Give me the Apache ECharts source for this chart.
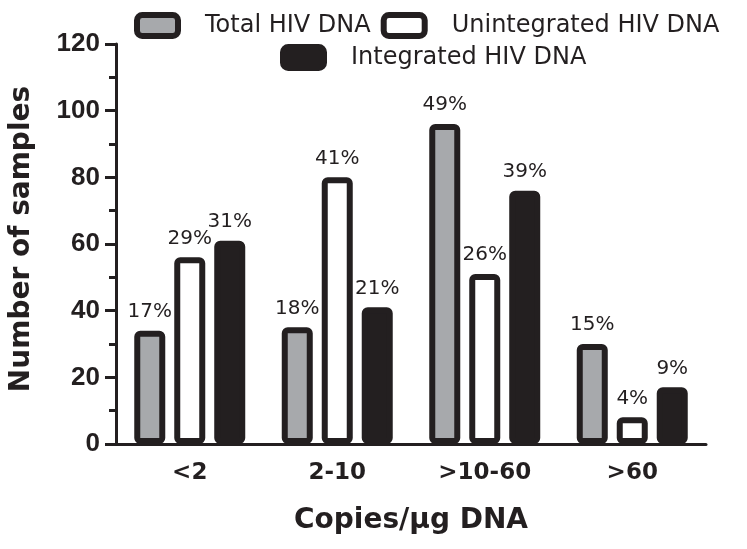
<!DOCTYPE html>
<html>
<head>
<meta charset="utf-8">
<script src="https://cdn.jsdelivr.net/npm/echarts@6/dist/echarts.min.js"></script>
<style>html,body{margin:0;padding:0;background:#fff;}#c{width:747px;height:549px;}</style>
</head>
<body>
<div id="c"></div>
<script>
var categories = ['<2', '2-10', '>10-60', '>60'];
var totalValues = [34, 35, 96, 30];
var unintegratedValues = [56, 80, 51, 8];
var integratedValues = [61, 41, 76, 17];
var totalPct = ['17%', '18%', '49%', '15%'];
var unintegratedPct = ['29%', '41%', '26%', '4%'];
var integratedPct = ['31%', '21%', '39%', '9%'];
var yTicks = [0, 20, 40, 60, 80, 100, 120];

var WIDE = '"DejaVu Sans", Verdana, sans-serif';
var NARROW = '"Liberation Sans", Arial, Helvetica, sans-serif';
var TXT = '#231f20';

function mkSeries(name, data, pct, color) {
  return {
    name: name,
    type: 'bar',
    data: data,
    barWidth: 31,
    barGap: '29%',
    itemStyle: { color: color, borderColor: '#231f20', borderWidth: 6, borderRadius: 3 },
    label: {
      show: true, position: 'top', distance: 9,
      fontFamily: WIDE, fontSize: 20, color: TXT,
      formatter: function (p) { return pct[p.dataIndex]; }
    }
  };
}

var legendCommon = {
  orient: 'horizontal',
  itemWidth: 41, itemHeight: 21, itemGap: 10,
  icon: 'roundRect',
  itemStyle: { borderColor: '#231f20', borderWidth: 6 },
  textStyle: { fontFamily: WIDE, fontSize: 24, color: TXT, padding: [0, 0, 0, 22] }
};

var chart = echarts.init(document.getElementById('c'), null, { renderer: 'canvas' });
chart.setOption({
  backgroundColor: '#fff',
  animation: false,
  legend: [
    Object.assign({}, legendCommon, { data: ['Total HIV DNA', 'Unintegrated HIV DNA'], left: 129, top: 7 }),
    Object.assign({}, legendCommon, { data: ['Integrated HIV DNA'], left: 275, top: 39 })
  ],
  grid: { left: 113, right: 41, top: 44, bottom: 105, containLabel: false },
  xAxis: {
    type: 'category',
    data: categories,
    name: 'Copies/\u03bcg DNA',
    nameLocation: 'middle',
    nameGap: 63,
    nameTextStyle: { fontFamily: WIDE, fontSize: 28, fontWeight: 'bold', color: TXT },
    axisLine: { lineStyle: { color: '#231f20', width: 3 } },
    axisTick: { alignWithLabel: true, length: 11, lineStyle: { color: '#231f20', width: 3 } },
    axisLabel: { fontFamily: WIDE, fontSize: 23, fontWeight: 'bold', color: TXT, margin: 18 }
  },
  yAxis: {
    type: 'value',
    min: 0, max: 120, interval: 20,
    name: 'Number of samples',
    nameLocation: 'middle',
    nameGap: 80,
    nameTextStyle: { fontFamily: WIDE, fontSize: 28, fontWeight: 'bold', color: TXT, padding: [0, 0, 0, 10] },
    axisLine: { show: true, lineStyle: { color: '#231f20', width: 3 } },
    axisTick: { show: true, length: 11, lineStyle: { color: '#231f20', width: 3 } },
    minorTick: { show: true, splitNumber: 2, length: 7, lineStyle: { color: '#231f20', width: 3 } },
    splitLine: { show: false },
    axisLabel: {
      fontFamily: NARROW, fontSize: 26, fontWeight: 'bold', color: TXT, margin: 16,
      formatter: function (v) { return yTicks.indexOf(v) >= 0 ? String(v) : ''; }
    }
  },
  series: [
    mkSeries('Total HIV DNA', totalValues, totalPct, '#a7a9ac'),
    mkSeries('Unintegrated HIV DNA', unintegratedValues, unintegratedPct, '#ffffff'),
    mkSeries('Integrated HIV DNA', integratedValues, integratedPct, '#231f20')
  ]
});
</script>
</body>
</html>
